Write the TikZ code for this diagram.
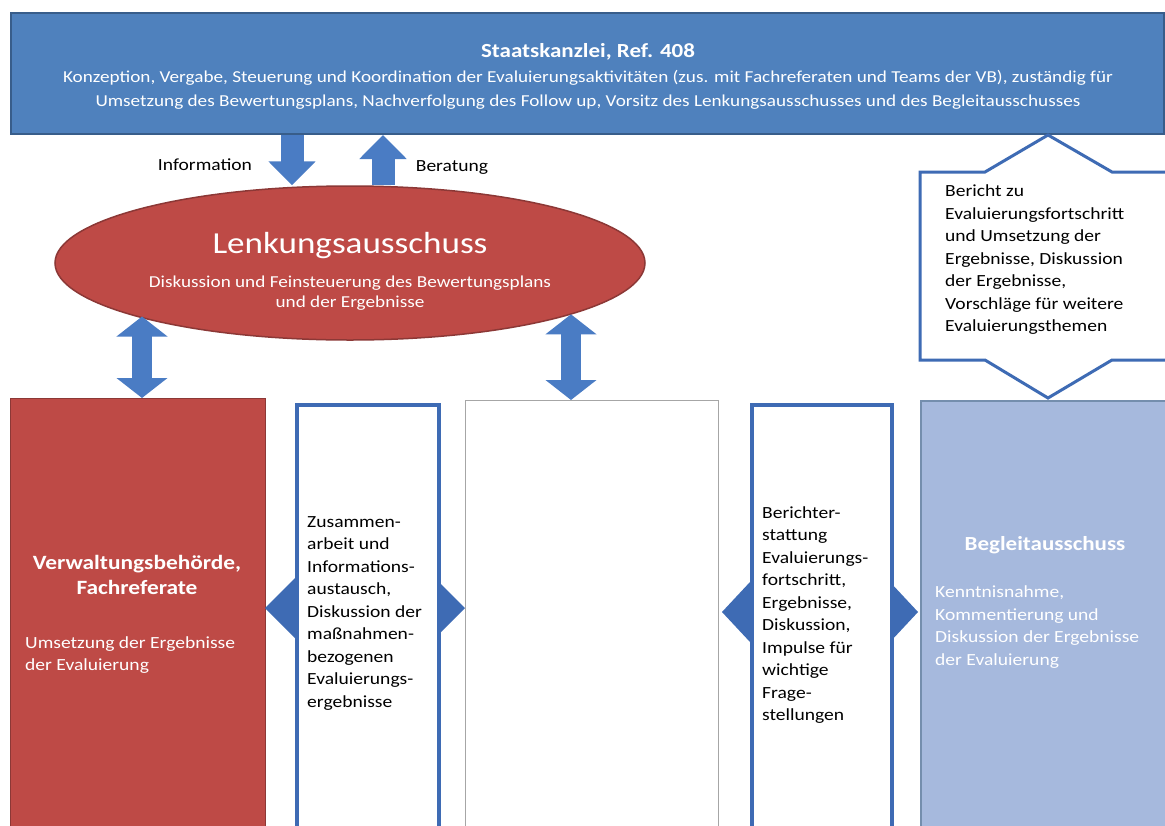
\documentclass[tikz,border=0pt]{standalone}
\usepackage{fontspec}
\setmainfont[FakeStretch=1.15]{Carlito}
\usetikzlibrary{arrows.meta,shapes.geometric}

\definecolor{kanzleiblau}{HTML}{4F81BD}
\definecolor{kanzleirand}{HTML}{385D8A}
\definecolor{lenkrot}{HTML}{BE4A46}
\definecolor{lenkrand}{HTML}{8C3836}
\definecolor{pfeilblau}{HTML}{4A7CC4}
\definecolor{rahmenblau}{HTML}{3E6BB4}
\definecolor{begleitblau}{HTML}{A6B9DD}

\tikzset{
  kasten/.style={draw, anchor=north west, inner sep=0pt},
  kastentext/.style={font=\fontsize{17}{22.5}\selectfont, align=left, inner sep=0pt},
  titeltext/.style={font=\bfseries\fontsize{20}{25}\selectfont, text=white, align=center, inner sep=0pt},
  einpfeil/.style={draw=pfeilblau, line width=23pt, -{Triangle[length=24pt,width=46pt]}},
  doppelpfeil/.style={draw=pfeilblau, line width=20pt,
    {Triangle[length=20pt,width=50pt]}-{Triangle[length=20pt,width=50pt]}},
  spitze/.style={fill=rahmenblau},
}

\begin{document}
\begin{tikzpicture}[x=1pt,y=-1pt]
  \useasboundingbox (0,0) rectangle (1165,825);
  \fill[white] (0,0) rectangle (1165,825);

  % Staatskanzlei
  \node[kasten, fill=kanzleiblau, draw=kanzleirand, line width=2pt,
        minimum width=1153pt, minimum height=121pt] (kanzlei) at (10,12) {};
  \node[text=white, align=center, font=\fontsize{16.7}{24}\selectfont, inner sep=0pt] (kanzleitext) at (588,76)
    {{\bfseries\fontsize{20}{24}\selectfont Staatskanzlei, Ref. 408}\\[1pt]
     Konzeption, Vergabe, Steuerung und Koordination der Evaluierungsaktivitäten (zus. mit Fachreferaten und Teams der VB), zuständig für\\
     Umsetzung des Bewertungsplans, Nachverfolgung des Follow up, Vorsitz des Lenkungsausschusses und des Begleitausschusses};

  \node[font=\fontsize{17}{20}\selectfont] (information) at (205,165) {Information};
  \node[font=\fontsize{17}{20}\selectfont] (beratung) at (452,168) {Beratung};

  % Lenkungsausschuss
  \node[ellipse, fill=lenkrot, draw=lenkrand, line width=1.5pt, minimum width=590pt,
        minimum height=154pt, inner sep=0pt] (lenkung) at (350,263) {};
  \node[text=white, align=center, inner sep=0pt,
        font=\fontsize{16.7}{20}\selectfont] (lenkungtext) at (350,271)
    {{\fontsize{30.5}{34}\selectfont Lenkungsausschuss}\\[14pt]
     Diskussion und Feinsteuerung des Bewertungsplans\\
     und der Ergebnisse};

  % untere Reihe
  \node[kasten, fill=lenkrot, draw=lenkrand, line width=1pt,
        minimum width=255pt, minimum height=440pt] (verwaltung) at (10,398) {};
  \node[titeltext, font=\bfseries\fontsize{20.3}{25}\selectfont] (verwaltungtitel) at (137,575) {Verwaltungsbehörde,\\Fachreferate};
  \node[kastentext, text=white, anchor=west] (verwaltungtext) at (25,655)
    {Umsetzung der Ergebnisse\\der Evaluierung};

  \node[kasten, fill=white, draw=rahmenblau, line width=3.5pt,
        minimum width=142pt, minimum height=440pt] (austausch) at (295,403) {};
  \fill[spitze] (295,578) -- (265,608) -- (295,638) -- cycle;
  \fill[spitze] (437,580) -- (465,608) -- (437,636) -- cycle;
  \node[kastentext, anchor=west] (austauschtext) at (307,613)
    {Zusammen-\\arbeit und\\Informations-\\austausch,\\Diskussion der\\maßnahmen-\\bezogenen\\Evaluierungs-\\ergebnisse};

  \node[kasten, fill=white, draw=black!35, line width=1pt,
        minimum width=253pt, minimum height=440pt] (mitte) at (465,400) {};

  \node[kasten, fill=white, draw=rahmenblau, line width=3.5pt,
        minimum width=140pt, minimum height=440pt] (bericht) at (750,403) {};
  \fill[spitze] (750,582) -- (722,612) -- (750,642) -- cycle;
  \fill[spitze] (890,582) -- (918,612) -- (890,642) -- cycle;
  \node[kastentext, anchor=west] (berichttext) at (762,615)
    {Berichter-\\stattung\\Evaluierungs-\\fortschritt,\\Ergebnisse,\\Diskussion,\\Impulse für\\wichtige\\Frage-\\stellungen};

  \node[kasten, fill=begleitblau, draw=kanzleirand!70, line width=1.5pt,
        minimum width=260pt, minimum height=440pt] (begleit) at (920,400) {};
  \node[titeltext] (begleittitel) at (1045,545) {Begleitausschuss};
  \node[kastentext, text=white, anchor=west] (begleittext) at (935,627)
    {Kenntnisnahme,\\Kommentierung und\\Diskussion der Ergebnisse\\der Evaluierung};

  % Berichtskasten rechts oben
  \draw[fill=white, draw=rahmenblau, line width=3pt]
    (920,172) -- (985,172) -- (1048,135) -- (1112,172) -- (1175,172) -- (1175,360)
    -- (1112,360) -- (1048,398) -- (985,360) -- (920,360) -- cycle;
  \node[kastentext, anchor=west] (berichttext oben) at (945,260)
    {Bericht zu\\Evaluierungsfortschritt\\und Umsetzung der\\Ergebnisse, Diskussion\\der Ergebnisse,\\Vorschläge für weitere\\Evaluierungsthemen};

  % Pfeile
  \coordinate (infox) at (292,0);
  \coordinate (beratx) at (383,0);
  \coordinate (linksx) at (142,0);
  \coordinate (mittex) at (571,0);
  \draw[einpfeil] (kanzlei.south -| infox) -- (lenkung.north -| infox);
  \draw[einpfeil] (lenkung.north -| beratx) -- (kanzlei.south -| beratx);
  \draw[doppelpfeil] (linksx |- lenkung.194) -- (linksx |- verwaltung.north);
  \draw[doppelpfeil] (mittex |- lenkung.347) -- (mittex |- mitte.north);
\end{tikzpicture}
\end{document}
